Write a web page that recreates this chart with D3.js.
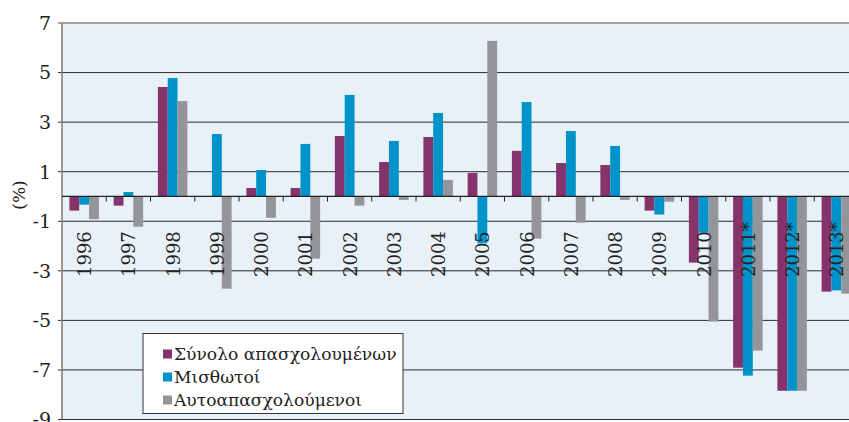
<!DOCTYPE html>
<html>
<head>
<meta charset="utf-8">
<script src="https://cdn.jsdelivr.net/npm/d3@7"></script>
<style>
  body { margin: 0; background: #fff; }
  svg { display: block; font-family: "DejaVu Serif", serif; }
</style>
</head>
<body>
<svg width="849" height="422"></svg>
<script>
const years = ["1996","1997","1998","1999","2000","2001","2002","2003","2004","2005","2006","2007","2008","2009","2010","2011*","2012*","2013*"];
const seriesNames = ["Σύνολο απασχολουμένων", "Μισθωτοί", "Αυτοαπασχολούμενοι"];
const total = [-0.57, -0.37, 4.42, 0, 0.34, 0.34, 2.44, 1.39, 2.40, 0.95, 1.84, 1.35, 1.27, -0.57, -2.67, -6.91, -7.84, -3.84];
const employees = [-0.33, 0.18, 4.78, 2.52, 1.07, 2.12, 4.10, 2.24, 3.37, -1.89, 3.81, 2.64, 2.04, -0.73, -1.46, -7.23, -7.84, -3.79];
const selfEmployed = [-0.92, -1.22, 3.85, -3.72, -0.86, -2.51, -0.37, -0.14, 0.67, 6.28, -1.70, -1.06, -0.14, -0.21, -5.05, -6.22, -7.84, -3.92];
const yTicks = [7, 5, 3, 1, -1, -3, -5, -7, -9];
const colors = ["#84336b", "#0093c9", "#939598"];

const svg = d3.select("svg");
const mLeft = 62, mRight = 858.5, mTop = 23, mBottom = 419.5;

const x = d3.scaleBand().domain(years).range([mLeft, mRight]).paddingInner(0).paddingOuter(0);
const y = d3.scaleLinear().domain([-9, 7]).range([mBottom, mTop]);
const inner = d3.scaleBand().domain([0, 1, 2]).range([0, x.bandwidth()]).paddingOuter(0.75).paddingInner(0);

const data = [total, employees, selfEmployed];

// plot background
svg.append("rect")
  .attr("x", mLeft).attr("y", mTop)
  .attr("width", mRight - mLeft).attr("height", mBottom - mTop)
  .attr("fill", "#e9f1f8");

// gridlines
svg.append("g").selectAll("line")
  .data(yTicks)
  .join("line")
  .attr("x1", mLeft - 4).attr("x2", mRight)
  .attr("y1", d => y(d)).attr("y2", d => y(d))
  .attr("stroke", d => d === 7 ? "#888" : "#2a2a2a")
  .attr("stroke-width", d => d === 7 ? 1.5 : 1);

// bars
years.forEach((yr, i) => {
  data.forEach((s, k) => {
    const v = s[i];
    svg.append("rect")
      .attr("x", x(yr) + inner(k))
      .attr("width", inner.bandwidth())
      .attr("y", y(Math.max(0, v)))
      .attr("height", Math.abs(y(v) - y(0)))
      .attr("fill", colors[k]);
  });
});

// y axis line
svg.append("line")
  .attr("x1", mLeft).attr("x2", mLeft)
  .attr("y1", mTop).attr("y2", mBottom)
  .attr("stroke", "#777").attr("stroke-width", 1.5);

// zero line with category ticks
svg.append("line")
  .attr("x1", mLeft).attr("x2", mRight)
  .attr("y1", y(0)).attr("y2", y(0))
  .attr("stroke", "#222").attr("stroke-width", 1.2);
svg.append("g").selectAll("line")
  .data(years.slice(1))
  .join("line")
  .attr("x1", d => x(d)).attr("x2", d => x(d))
  .attr("y1", y(0)).attr("y2", y(0) + 5)
  .attr("stroke", "#222");

// y tick labels
svg.append("g").selectAll("text")
  .data(yTicks)
  .join("text")
  .attr("x", 51).attr("y", d => y(d))
  .attr("dy", "0.36em")
  .attr("text-anchor", "end")
  .attr("font-size", 19)
  .attr("fill", "#222")
  .text(d => d);

svg.append("text")
  .attr("transform", "translate(25,195) rotate(-90)")
  .attr("text-anchor", "middle")
  .attr("font-size", 17)
  .attr("fill", "#222")
  .text("(%)");

// year labels
svg.append("g").selectAll("text")
  .data(years)
  .join("text")
  .attr("transform", d => `translate(${x(d) + x.bandwidth() / 2 + 7},277) rotate(-90)`)
  .attr("font-size", 18)
  .attr("fill", "#222")
  .text(d => d);

// legend
const lg = svg.append("g").attr("transform", "translate(143,333.5)");
lg.append("rect")
  .attr("width", 260).attr("height", 80)
  .attr("fill", "#fff").attr("stroke", "#333");
seriesNames.forEach((n, k) => {
  const row = lg.append("g").attr("transform", `translate(0,${20.5 + k * 23})`);
  row.append("rect").attr("x", 20).attr("y", -4.5).attr("width", 9).attr("height", 9).attr("fill", colors[k]);
  row.append("text").attr("x", 31).attr("dy", "0.36em")
    .attr("font-size", 17.1).attr("fill", "#222").text(n);
});
</script>
</body>
</html>
